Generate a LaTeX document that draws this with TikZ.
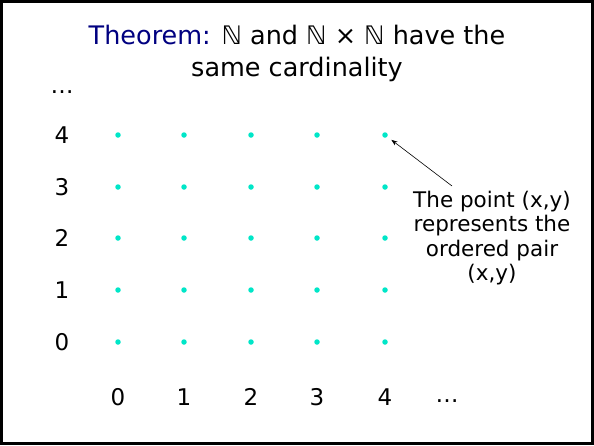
\documentclass[tikz,border=0pt]{standalone}
\usepackage{fontspec}
\setmainfont{DejaVu Sans}
\usetikzlibrary{arrows.meta,positioning}
\definecolor{navy}{RGB}{0,0,128}
\definecolor{dotcyan}{RGB}{0,230,200}

\begin{document}
\begin{tikzpicture}[
    x=1pt, y=-1pt,
    title/.style={align=center, font=\fontsize{25.5}{32}\selectfont},
    axislabel/.style={font=\fontsize{23}{26}\selectfont},
    pt/.style={circle, fill=dotcyan, inner sep=0pt, minimum size=5.5pt},
    note/.style={align=center, font=\fontsize{21.5}{24.5}\selectfont},
    arrow/.style={-{Stealth[length=2.2mm,width=1.6mm]}, semithick}
]
\useasboundingbox (0,0) rectangle (594,445);
\draw[line width=3pt] (1.5,1.5) rectangle (592.5,443.5);

\node[title] (title) at (297,53) {\textcolor{navy}{Theorem:} ℕ and ℕ × ℕ have the\\ same cardinality};

% grid of points with column labels
\foreach \i/\x in {0/118,1/184,2/251,3/317,4/385} {
  \node[axislabel] (col\i) at (\x,397) {\i};
  \foreach \j/\y in {0/342,1/290,2/238,3/187,4/135}
    \node[pt] (d\i\j) at (\x,\y) {};
}
% row labels
\foreach \j/\y in {0/342,1/290,2/238,3/187,4/135}
  \node[axislabel] (row\j) at (62,\y) {\j};
\node[axislabel] (rowdots) at (62,92) {…};
\node[axislabel] (coldots) at (447,401) {…};

\node[note] (note) at (492,238) {The point (x,y)\\represents the\\ordered pair\\(x,y)};
\coordinate (tail) at (452,186);
\draw[arrow, shorten >=5pt] (tail) -- (d44);
\end{tikzpicture}
\end{document}
